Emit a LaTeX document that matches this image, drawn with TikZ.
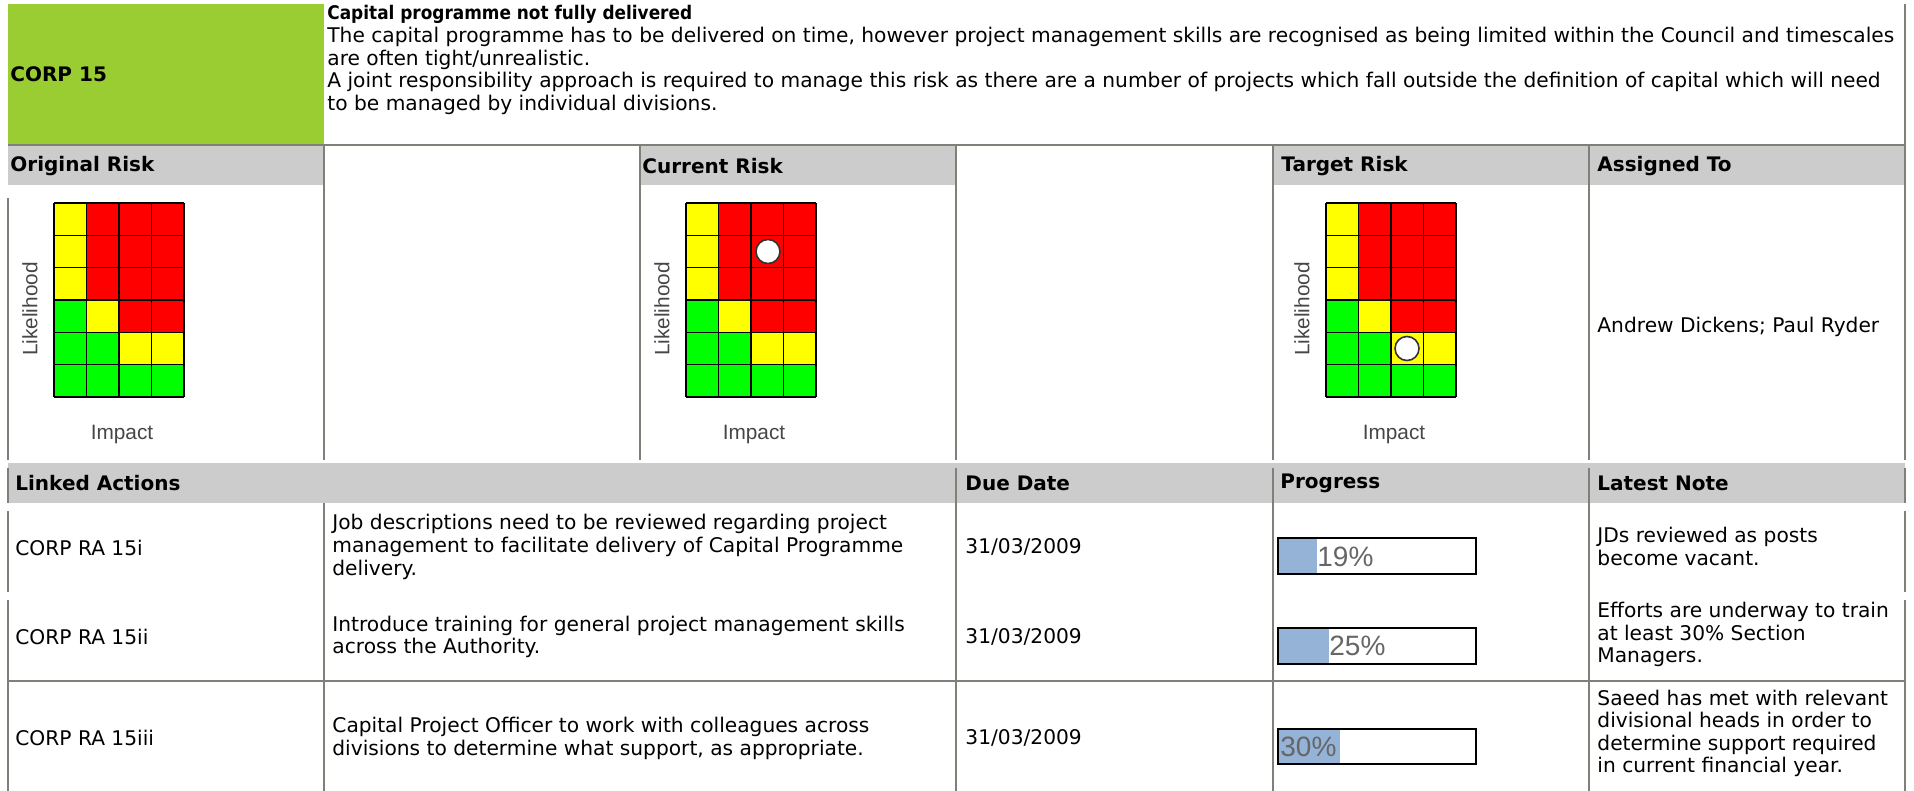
\documentclass[tikz,border=0pt]{standalone}
\usepackage{fontspec}
\setmainfont{DejaVu Sans}
\newfontfamily\chartfont{Liberation Sans}
\newfontfamily\titlefont[FakeStretch=0.9]{DejaVu Sans}
\definecolor{corpgreen}{RGB}{154,205,50}
\definecolor{headgray}{RGB}{204,204,204}
\definecolor{rulegray}{RGB}{128,128,120}
\definecolor{riskR}{RGB}{255,0,0}
\definecolor{riskY}{RGB}{255,255,0}
\definecolor{riskG}{RGB}{0,255,0}
\definecolor{barblue}{RGB}{149,179,215}
\definecolor{labelgray}{RGB}{70,70,70}
\begin{document}
\begin{tikzpicture}[
    x=0.5pt, y=-0.5pt,
    every node/.style={inner sep=0pt, anchor=west, align=left, font=\fontsize{10.1}{11.3}\selectfont},
    head/.style={font=\fontsize{10}{11.3}\selectfont\bfseries},
    rule line/.style={draw=rulegray, line width=0.8pt},
    cell line/.style={draw=black, line width=0.8pt},
    axis label/.style={anchor=center, text=labelgray, font=\chartfont\fontsize{10.4}{12}\selectfont},
    marker/.style={anchor=center, circle, draw=black!80, fill=white, line width=0.8pt, minimum size=12pt},
    bar frame/.style={draw=black, line width=1pt},
    percent/.style={text=black!60, font=\chartfont\fontsize{14}{16}\selectfont},
    ]
\useasboundingbox (0,0) rectangle (1914,791);
\fill[corpgreen] (8,4) rectangle (324,145);
\fill[headgray] (8,145) rectangle (324,185);
\fill[headgray] (640,145) rectangle (956,185);
\fill[headgray] (1273,145) rectangle (1905,185);
\fill[headgray] (8,463) rectangle (1905,503);
\draw[rule line] (8,145) -- (1905,145);
\draw[rule line] (8,681) -- (1905,681);
\draw[rule line] (324,145) -- (324,460);
\foreach \x in {640,956,1273,1589} \draw[rule line] (\x,145) -- (\x,460);
\foreach \x in {956,1273,1589} \draw[rule line] (\x,468) -- (\x,791);
\draw[rule line] (324,503) -- (324,791);
\draw[rule line] (1905,4) -- (1905,460);
\draw[rule line] (8,198) -- (8,460);
\foreach \x in {8,1905} {
  \draw[rule line] (\x,468) -- (\x,503);
  \draw[rule line] (\x,511) -- (\x,592);
  \draw[rule line] (\x,600) -- (\x,791);
}
\node[head] (corp) at (10,74) {CORP 15};
\node (title) at (327,60) {{\titlefont\bfseries\fontsize{9.4}{11.3}\selectfont Capital programme not fully delivered}\\The capital programme has to be delivered on time, however project management skills are recognised as being limited within the Council and timescales\\are often tight/unrealistic.\\A joint responsibility approach is required to manage this risk as there are a number of projects which fall outside the definition of capital which will need\\to be managed by individual divisions.};
\node[head] (origlabel) at (10,166) {Original Risk};
\node[head] (currlabel) at (642,166) {Current Risk};
\node[head] (targlabel) at (1281,166) {Target Risk};
\node[head] (assignlabel) at (1597,166) {Assigned To};
\foreach \mx/\mname in {54/orig, 686/curr, 1326/targ} {
  \foreach \r/\ka/\kb/\kc/\kd in {0/Y/R/R/R, 1/Y/R/R/R, 2/Y/R/R/R, 3/G/Y/R/R, 4/G/G/Y/Y, 5/G/G/G/G} {
    \fill[fill=risk\ka] (\mx,203+32.33*\r) rectangle ++(32.5,32.33);
    \fill[fill=risk\kb] (\mx+32.5,203+32.33*\r) rectangle ++(32.5,32.33);
    \fill[fill=risk\kc] (\mx+65,203+32.33*\r) rectangle ++(32.5,32.33);
    \fill[fill=risk\kd] (\mx+97.5,203+32.33*\r) rectangle ++(32.5,32.33);
  }
  \foreach \i in {0,...,4} \draw[cell line] (\mx+32.5*\i,203) -- (\mx+32.5*\i,397);
  \foreach \j in {0,...,6} \draw[cell line] (\mx,203+32.33*\j) -- (\mx+130,203+32.33*\j);
  \node[axis label, rotate=90] (\mname-like) at (\mx-24,309) {Likelihood};
  \node[axis label] (\mname-imp) at (\mx+68,435) {Impact};
}
\node[marker] (currdot) at (768,251.5) {};
\node[marker] (targdot) at (1407,348.5) {};
\node (assigned) at (1597,327) {Andrew Dickens; Paul Ryder};
\node[head] (actionslabel) at (15,483) {Linked Actions};
\node[head] (duelabel) at (965,483) {Due Date};
\node[head] (progresslabel) at (1280,483) {Progress};
\node[head] (notelabel) at (1597,483) {Latest Note};
\node (codeA) at (15,548) {CORP RA 15i};
\node (descA) at (332,547) {Job descriptions need to be reviewed regarding project\\management to facilitate delivery of Capital Programme\\delivery.};
\node (dueA) at (965,547) {31/03/2009};
\fill[barblue] (1278,538) rectangle (1317,574);
\node[percent] (pctA) at (1317,557) {19\%};
\draw[bar frame] (1278,538) rectangle (1476,574);
\node (noteA) at (1597,546.5) {JDs reviewed as posts\\become vacant.};
\node (codeB) at (15,637) {CORP RA 15ii};
\node (descB) at (332,637) {Introduce training for general project management skills\\across the Authority.};
\node (dueB) at (965,637) {31/03/2009};
\fill[barblue] (1278,628) rectangle (1329,664);
\node[percent] (pctB) at (1329,646) {25\%};
\draw[bar frame] (1278,628) rectangle (1476,664);
\node (noteB) at (1597,634.5) {Efforts are underway to train\\at least 30\% Section\\Managers.};
\node (codeC) at (15,738) {CORP RA 15iii};
\node (descC) at (332,738.5) {Capital Project Officer to work with colleagues across\\divisions to determine what support, as appropriate.};
\node (dueC) at (965,738) {31/03/2009};
\fill[barblue] (1278,729) rectangle (1340,764);
\node[percent] (pctC) at (1280,747) {30\%};
\draw[bar frame] (1278,729) rectangle (1476,764);
\node (noteC) at (1597,733.5) {Saeed has met with relevant\\divisional heads in order to\\determine support required\\in current financial year.};
\end{tikzpicture}
\end{document}
